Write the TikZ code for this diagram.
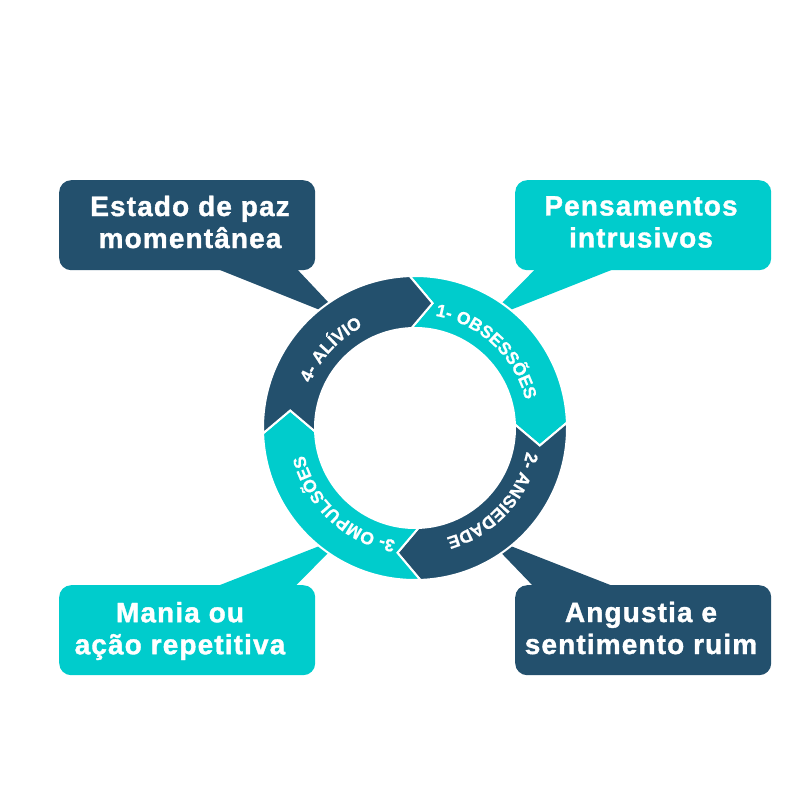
\documentclass[tikz,border=0pt]{standalone}
\usepackage{fontspec}
\setmainfont{Liberation Sans}
\newfontfamily\boxfont{Liberation Sans}[LetterSpace=4.0, FakeBold=1.3]
\newfontfamily\ringfam{Liberation Sans}[LetterSpace=0.5, FakeBold=0.8]
\usetikzlibrary{decorations.text,calc}
\definecolor{dkblue}{RGB}{35,80,109}
\definecolor{cyanx}{RGB}{0,204,204}
\newcommand\ringtxt{\ringfam\bfseries\fontsize{17.5}{19}\selectfont}
\begin{document}
\begin{tikzpicture}[x=1pt,y=-1pt,
  callout/.style={fill=#1, draw=none, rounded corners=12pt, minimum width=256pt, minimum height=90pt, inner sep=0pt, anchor=north west},
  boxtext/.style={text=white, font=\boxfont\bfseries\fontsize{28}{32}\selectfont, align=center, inner sep=0pt},
  seg/.style={fill=#1, draw=white, line width=2pt, line join=miter},
  ringlabel/.style={decorate, decoration={text along path, text={|\ringtxt|#1}, text align=center, text color=white}}
]
\useasboundingbox (0,0) rectangle (810,810);

% callout boxes
\node[callout=dkblue] (tl) at (59,180) {};
\node[callout=cyanx]  (tr) at (515,180) {};
\node[callout=cyanx]  (bl) at (59,585) {};
\node[callout=dkblue] (br) at (515,585) {};

% pointer apexes (hidden under the ring)
\coordinate (atl) at (345,320);
\coordinate (atr) at (485,320);
\coordinate (abl) at (345,536);
\coordinate (abr) at (485,536);

\fill[dkblue] ($(tl.south east)+(-102,-3)$) -- ($(tl.south east)+(-20,-3)$) -- (atl) -- cycle;
\fill[cyanx]  ($(tr.south west)+(22,-3)$) -- ($(tr.south west)+(103,-3)$) -- (atr) -- cycle;
\fill[cyanx]  ($(bl.north east)+(-103,3)$) -- ($(bl.north east)+(-22,3)$) -- (abl) -- cycle;
\fill[dkblue] ($(br.north west)+(20,3)$) -- ($(br.north west)+(103,3)$) -- (abr) -- cycle;

% box texts
\node[boxtext] (tlt) at (190,222) {Estado de paz\\momentânea};
\node[boxtext] (trt) at (641,222) {Pensamentos\\intrusivos};
\node[boxtext] (blt) at (180,631) {Mania ou\\ação repetitiva};
\node[boxtext] (brt) at (641,628) {Angustia e\\sentimento ruim};

% ring
\begin{scope}[shift={(415,428)}, y=1pt]
  \foreach \s/\e/\c in {92/2/cyanx, 2/-88/dkblue, -88/-178/cyanx, 182/92/dkblue}{
    \filldraw[seg=\c] (\s:152) arc[start angle=\s, end angle=\e, radius=152]
      -- ({\e-10}:126) -- (\e:100) arc[start angle=\e, end angle=\s, radius=100]
      -- ({\s-10}:126) -- cycle;
  }
  \path[ringlabel={1- OBSESSÕES}] (92:114) arc[start angle=92, end angle=2, radius=114];
  \path[ringlabel={2- ANSIEDADE}] (2:114) arc[start angle=2, end angle=-88, radius=114];
  \path[ringlabel={3- OMPULSÕES}] (-88:114) arc[start angle=-88, end angle=-178, radius=114];
  \path[ringlabel={4- ALÍVIO}] (182:114) arc[start angle=182, end angle=92, radius=114];
\end{scope}
\end{tikzpicture}
\end{document}
